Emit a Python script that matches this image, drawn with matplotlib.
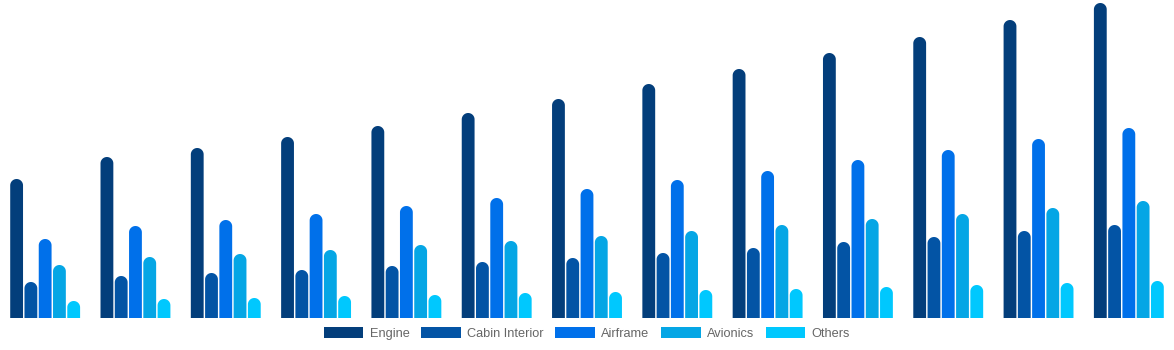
import matplotlib
matplotlib.use("Agg")
import matplotlib.pyplot as plt
from matplotlib.patches import PathPatch, Patch
from matplotlib.path import Path
import numpy as np

plt.rcParams["font.family"] = ["Liberation Sans", "DejaVu Sans"]

# --- data -------------------------------------------------------------------
series = ["Engine", "Cabin Interior", "Airframe", "Avionics", "Others"]
colors = ["#033e7b", "#0354a5", "#0070ea", "#05a6e5", "#00c8fe"]

engine = [139, 161, 170, 181, 192, 205, 219, 234, 249, 265, 281, 298, 315]
cabin = [36, 42, 45, 48, 52, 56, 60, 65, 70, 76, 81, 87, 93]
airframe = [79, 92, 98, 104, 112, 120, 129, 138, 147, 158, 168, 179, 190]
avionics = [53, 61, 64, 68, 73, 77, 82, 87, 93, 99, 104, 110, 117]
others = [17, 19, 20, 22, 23, 25, 26, 28, 29, 31, 33, 35, 37]
values = [engine, cabin, airframe, avionics, others]

# --- drawing ----------------------------------------------------------------
W, H, DPI = 11.74, 3.5, 100
fig = plt.figure(figsize=(W, H), dpi=DPI)
ax = fig.add_axes([0, 32 / 350, 1, 318 / 350])
ax.set_xlim(-0.5, 12.5)
ax.set_ylim(0, 318)
ax.axis("off")

n = len(engine)
x = np.arange(n)
slot = 0.158
bw = 0.142
# cap radius: half the bar width in pixels (1 y unit = 1 px)
r_y = bw * (W * DPI) / 13.0 / 2


def rounded_bar(xc, h, w, ry):
    """Bar path with a semicircular top."""
    t = np.linspace(np.pi, 0, 30)
    top_x = xc + (w / 2) * np.cos(t)
    top_y = (h - ry) + ry * np.sin(t)
    xs = np.concatenate([[xc - w / 2], top_x, [xc + w / 2, xc - w / 2]])
    ys = np.concatenate([[0], top_y, [0, 0]])
    verts = np.column_stack([xs, ys])
    codes = [Path.MOVETO] + [Path.LINETO] * (len(verts) - 2) + [Path.CLOSEPOLY]
    return Path(verts, codes)


for i, (vals, col) in enumerate(zip(values, colors)):
    xs = x + (i - 2) * slot
    for xi, v in zip(xs, vals):
        ax.add_patch(PathPatch(rounded_bar(xi, v, bw, r_y), facecolor=col,
                               edgecolor="none", snap=False))

handles = [Patch(facecolor=c, edgecolor="none") for c in colors]
fig.legend(handles, series, loc="center", bbox_to_anchor=(0.5, 1 - 333.5 / 350),
           ncol=5, frameon=False, fontsize=9.2, labelcolor="#666666",
           handlelength=3.1, handleheight=1.0, handletextpad=0.5,
           columnspacing=0.9)

fig.savefig("out.png", dpi=DPI)
